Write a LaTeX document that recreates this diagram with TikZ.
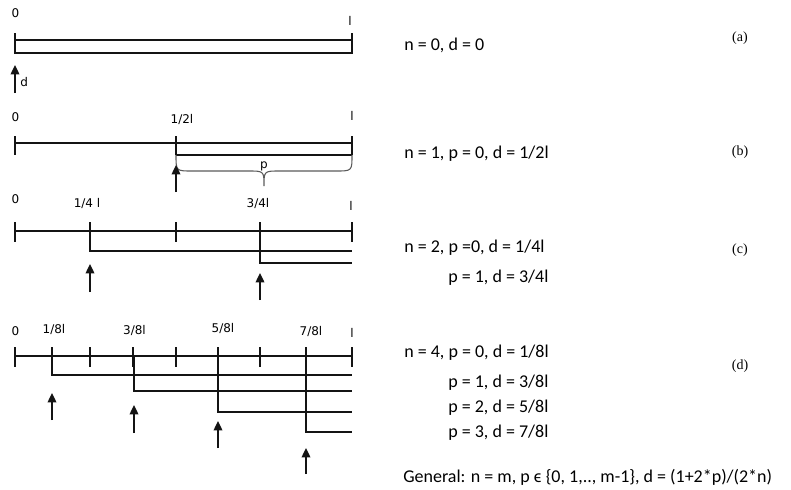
\documentclass[tikz,border=0pt]{standalone}
\usepackage{fontspec}
\setmainfont{Carlito}
\newfontfamily\tickfont{DejaVu Sans}
\newfontfamily\casefont{Liberation Serif}
\usetikzlibrary{arrows.meta,positioning}
\definecolor{BarBlack}{HTML}{141414}
\definecolor{BraceGray}{HTML}{5A5A5A}
\tikzset{
  barline/.style={draw=BarBlack,line width=1.6pt},
  subline/.style={draw=BarBlack,line width=1.1pt},
  bracepath/.style={draw=BraceGray,line width=0.8pt},
  pointer/.style={draw=BarBlack,line width=1pt,-{Triangle[length=7pt,width=6.5pt]}},
  poslabel/.style={font=\tickfont\fontsize{9}{10}\selectfont,text=black,anchor=base,inner sep=0pt},
  eqlabel/.style={font=\fontsize{13.5}{15}\selectfont,anchor=base west,inner sep=0pt},
  caselabel/.style={font=\casefont\fontsize{10.5}{12}\selectfont,anchor=base,inner sep=0pt},
}

\begin{document}
\begin{tikzpicture}[x=0.75pt,y=-0.75pt]
  \useasboundingbox (0,0) rectangle (791,489);
  % (a) whole segment
  \coordinate (a0) at (15,40);
  \coordinate (a1) at (352,40);
  \draw[barline] (a0) -- (a1);
  \draw[subline] (15,53) -- (352,53);
  \draw[barline] (15,33) -- (15,54);
  \draw[barline] (352,33) -- (352,54);
  \node[poslabel] (a0lbl) at (15.5,17) {0};
  \node[poslabel] (a1lbl) at (350,25) {l};
  \coordinate (aptr) at (15,93);
  \draw[pointer] (aptr) -- (15,65);
  \node[poslabel,anchor=base west] (dlbl) at (20,86) {d};
  % (b) halves
  \coordinate (b0) at (15,143);
  \coordinate (b1) at (352,143);
  \draw[barline] (b0) -- (b1);
  \foreach \x in {15,176,352}
    \draw[barline] (\x,136) -- (\x,155);
  \draw[subline] (176,155) -- (352,155);
  \draw[bracepath] (176,155) .. controls (176,171) .. (192,171) -- (248,171)
    .. controls (264,171) .. (264,186) .. controls (264,171) .. (280,171)
    -- (336,171) .. controls (352,171) .. (352,155);
  \node[poslabel] (plbl) at (264,168) {p};
  \node[poslabel] (b0lbl) at (15.5,121) {0};
  \node[poslabel] (bhlbl) at (182,123) {1/2l};
  \node[poslabel] (b1lbl) at (352,120) {l};
  \coordinate (bptr) at (176,192);
  \draw[pointer] (bptr) -- (176,165);
  % (c) quarters
  \draw[barline] (15,231) -- (352,231);
  \foreach \x in {15,90,176,260,352}
    \draw[barline] (\x,222) -- (\x,242);
  \draw[subline] (90,231) -- (90,251) -- (352,251);
  \draw[subline] (260,231) -- (260,263) -- (352,263);
  \draw[pointer] (90,292) -- (90,264);
  \draw[pointer] (260,300) -- (260,273);
  \node[poslabel] (c0lbl) at (15.5,203) {0};
  \node[poslabel] (c1lbl) at (87,207) {1/4 l};
  \node[poslabel] (c3lbl) at (258,207) {3/4l};
  \node[poslabel] (c4lbl) at (351,210) {l};
  % (d) eighths
  \draw[barline] (15,356) -- (352,356);
  \foreach \x in {15,52,90,133,176,218,260,306,352}
    \draw[barline] (\x,347) -- (\x,367);
  \foreach \x/\yd/\yb/\yt in {52/375/420/393,134/391/433/405,218/412/448/421,306/432/474/448}{
    \draw[subline] (\x,356) -- (\x,\yd) -- (352,\yd);
    \draw[pointer] (\x,\yb) -- (\x,\yt);
  }
  \node[poslabel] (d0lbl) at (15.5,335) {0};
  \node[poslabel] (d1lbl) at (54,333) {1/8l};
  \node[poslabel] (d3lbl) at (134.5,334) {3/8l};
  \node[poslabel] (d5lbl) at (223,332) {5/8l};
  \node[poslabel] (d7lbl) at (311,335) {7/8l};
  \node[poslabel] (d8lbl) at (352,337) {l};
  % right hand equations
  \node[eqlabel] (eqa) at (404,50) {n = 0, d = 0};
  \node[eqlabel] (eqb) at (404,158) {n = 1, p = 0, d = 1/2l};
  \node[eqlabel] (eqc1) at (404,252) {n = 2, p =0, d = 1/4l};
  \node[eqlabel] (eqc2) at (448,282) {p = 1, d = 3/4l};
  \node[eqlabel] (eqd1) at (404,357) {n = 4, p = 0, d = 1/8l};
  \node[eqlabel] (eqd2) at (448,387) {p = 1, d = 3/8l};
  \node[eqlabel] (eqd3) at (448,412) {p = 2, d = 5/8l};
  \node[eqlabel] (eqd4) at (448,437) {p = 3, d = 7/8l};
  \node[eqlabel] (eqgen) at (403,482) {General: n = m, p ϵ \{0, 1,.., m-1\}, d = (1+2*p)/(2*n)};
  \node[caselabel] (casea) at (740,41) {(a)};
  \node[caselabel] (caseb) at (740,155) {(b)};
  \node[caselabel] (casec) at (740,253) {(c)};
  \node[caselabel] (cased) at (740,369) {(d)};
\end{tikzpicture}
\end{document}
